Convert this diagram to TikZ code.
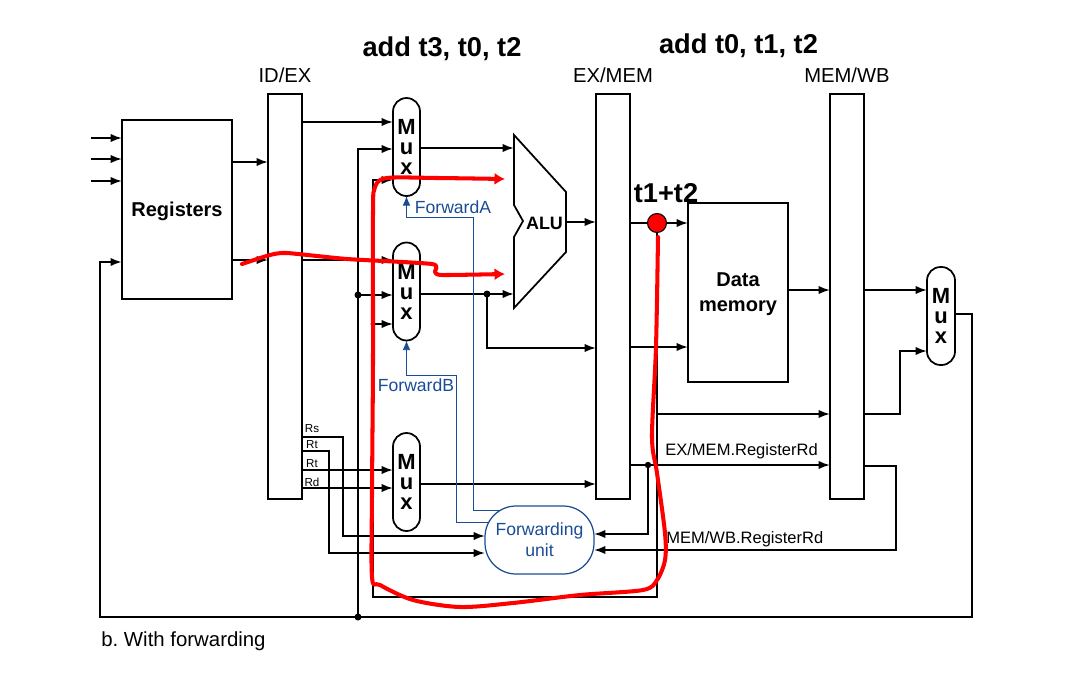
\documentclass[tikz,border=0pt]{standalone}
\usepackage{fontspec}
\setmainfont{Liberation Sans}
\usetikzlibrary{arrows.meta}
\definecolor{fwdblue}{HTML}{1A4C94}
\frenchspacing
\tikzset{
    >={Latex[length=6.5pt,width=4.8pt]},
    wire/.style={line width=1.1pt,black},
    fwdwire/.style={line width=0.5pt,fwdblue},
    hotwire/.style={line width=2.3pt,red,line cap=round,line join=round},
    block/.style={draw,line width=1pt,outer sep=0pt,inner sep=0pt,align=center,text depth=0pt,font=\fontsize{11.4}{14.2}\selectfont\bfseries},
    pipereg/.style={block,minimum width=0.68cm,minimum height=8.1cm},
    muxbox/.style={block,rounded corners=0.27cm,minimum width=0.54cm,minimum height=1.96cm,font=\fontsize{12.5}{11.4}\selectfont\bfseries},
    lbl/.style={inner sep=0pt,font=\fontsize{9.4}{11}\selectfont},
    reglbl/.style={inner sep=0pt,font=\fontsize{11.5}{13}\selectfont},
    tinylbl/.style={inner sep=0pt,font=\fontsize{6.6}{7}\selectfont},
    fwdlbl/.style={inner sep=0pt,text=fwdblue,font=\fontsize{10}{12}\selectfont},
    headlbl/.style={inner sep=0pt,font=\fontsize{15.5}{17}\selectfont\bfseries}
}
\begin{document}
\begin{tikzpicture}[x=0.02cm,y=-0.02cm]
    \useasboundingbox (0,0) rectangle (1086,683);

    % blocks
    \node[block,minimum width=2.2cm,minimum height=3.58cm] (regs) at (177,209.5) {Registers};
    \node[pipereg] (idex) at (285,296.5) {};
    \node[pipereg] (exmem) at (613,296.5) {};
    \node[pipereg] (memwb) at (847,296.5) {};
    \node[block,minimum width=2cm,minimum height=3.58cm] (dmem) at (738,292.5) {Data\\memory};
    \node[muxbox] (muxa) at (406.5,147) {M\\u\\x};
    \node[muxbox] (muxb) at (406.5,291.5) {M\\u\\x};
    \node[muxbox] (muxc) at (406.5,482) {M\\u\\x};
    \node[muxbox,minimum width=0.56cm] (muxd) at (941,316) {M\\u\\x};
    \node[draw=fwdblue,line width=0.7pt,rounded corners=0.62cm,minimum width=2.18cm,minimum height=1.36cm,outer sep=0pt,inner sep=0pt,align=center,text=fwdblue,font=\fontsize{10}{12}\selectfont] (fwd) at (539.5,540) {Forwarding\\unit};

    % ALU
    \coordinate (alutop) at (514,135);
    \coordinate (alubot) at (514,308);
    \draw[line width=1pt,line join=miter] (alutop) -- (566,192) -- (566,252) -- (alubot) -- (514,237) -- (523,221) -- (514,205) -- cycle;
    \node[inner sep=0pt,font=\fontsize{10.2}{12}\selectfont\bfseries] (alu) at (544.5,223) {ALU};

    % labels
    \node[reglbl] (lblidex) at (285,75) {ID/EX};
    \node[reglbl] (lblexmem) at (613,75) {EX/MEM};
    \node[reglbl] (lblmemwb) at (847,75) {MEM/WB};
    \node[headlbl] (lbladda) at (442,48.5) {add t3, t0, t2};
    \node[headlbl] (lbladdb) at (738.5,45.5) {add t0, t1, t2};
    \node[headlbl,font=\fontsize{15.5}{17}\selectfont\bfseries] (lblsum) at (666,193) {t1+t2};
    \node[lbl,anchor=west] (lblexrd) at (665,451.5) {EX/MEM.RegisterRd};
    \node[lbl,anchor=west] (lblwbrd) at (666,539.5) {MEM/WB.RegisterRd};
    \node[inner sep=0pt,anchor=west,font=\fontsize{11.6}{13}\selectfont] (lblcap) at (101,641) {b. With forwarding};
    \node[tinylbl] (lblrs) at (312,429) {Rs};
    \node[tinylbl] (lblrta) at (312,445) {Rt};
    \node[tinylbl] (lblrtb) at (312,464) {Rt};
    \node[tinylbl] (lblrd) at (312,482) {Rd};
    \node[fwdlbl] (lblfa) at (453,207) {ForwardA};
    \node[fwdlbl] (lblfb) at (416,385) {ForwardB};

    % register file and first pipeline register
    \foreach \yy in {138,159,181} {
        \draw[wire,->] (91,\yy) -- (regs.west |- 91,\yy);
    }
    \draw[wire,->] (regs.east |- 0,162) -- (idex.west |- 0,162);
    \draw[wire,->] (regs.east |- 0,260) -- (idex.west |- 0,260);
    \draw[wire,->] (idex.east |- 0,122) -- (muxa.west |- 0,122);
    \draw[wire,->] (idex.east |- 0,260) -- (muxb.west |- 0,260);
    \draw[wire,->] (idex.east |- 0,470) -- (muxc.west |- 0,470);
    \draw[wire,->] (idex.east |- 0,488) -- (muxc.west |- 0,488);

    % forward from MEM/WB
    \coordinate (wbjoin) at (358,617);
    \coordinate (wbtap) at (358,295);
    \draw[wire,->] (wbjoin) -- (358,149) -- (muxa.west |- 0,149);
    \draw[wire,->] (wbtap) -- (muxb.west |- wbtap);
    \fill (wbtap) circle(3.5);
    \fill (wbjoin) circle(3.5);

    % forward from EX/MEM
    \coordinate (memhit) at (657,223);
    \coordinate (memtap) at (373,324);
    \draw[wire,->] (memhit) -- (657,597) -- (373,597) -- (373,180) -- (muxa.west |- 0,180);
    \draw[wire,->] (memtap) -- (muxb.west |- memtap);
    \fill (memtap) circle(2.5);

    % ALU in and out
    \coordinate (alutap) at (487,294);
    \draw[wire,->] (muxa.east |- 0,148) -- (alutop |- 0,148);
    \draw[wire,->] (muxb.east |- alutap) -- (alutop |- alutap);
    \draw[wire,->] (alutap) -- (487,348) -- (exmem.west |- 0,348);
    \fill (alutap) circle(3.5);
    \draw[wire,->] (566,222) -- (exmem.west |- 0,222);
    \draw[wire,->] (muxc.east |- 0,484) -- (exmem.west |- 0,484);

    % memory stage
    \draw[wire,->] (exmem.east |- 0,223) -- (dmem.west |- 0,223);
    \draw[wire,->] (exmem.east |- 0,347) -- (dmem.west |- 0,347);
    \draw[wire,->] (dmem.east |- 0,290) -- (memwb.west |- 0,290);
    \draw[wire,->] (657,414) -- (memwb.west |- 0,414);
    \coordinate (rdtap) at (648,465);
    \draw[wire,->] (exmem.east |- rdtap) -- (memwb.west |- rdtap);
    \draw[wire,->] (rdtap) -- (648,534) -- (fwd.east |- 0,534);
    \fill (rdtap) circle(3.2);

    % writeback
    \draw[wire,->] (memwb.east |- 0,290) -- (muxd.west |- 0,290);
    \draw[wire,->] (memwb.east |- 0,414) -- (900,414) -- (900,351) -- (muxd.west |- 0,351);
    \draw[wire,->] (memwb.east |- 0,466) -- (896,466) -- (896,550) -- (fwd.east |- 0,550);
    \draw[wire,line width=1.3pt,->] (muxd.east |- 0,314) -- (972,314) -- (972,617) -- (100,617) -- (100,262) -- (regs.west |- 0,262);

    % Rs and Rt to the forwarding unit
    \draw[wire,->] (idex.east |- 0,437) -- (343,437) -- (343,536) -- (fwd.west |- 0,536);
    \draw[wire,->] (idex.east |- 0,451) -- (329,451) -- (329,553) -- (fwd.west |- 0,553);

    % forwarding control
    \draw[fwdwire,-{Latex[length=5.5pt,width=4.4pt]}] (500,510) -- (473,510) -- (473,217) -- (406.5,217) -- (muxa.south);
    \draw[fwdwire,-{Latex[length=5.5pt,width=4.4pt]}] (488,522) -- (456,522) -- (456,375) -- (406.5,375) -- (muxb.south);

    % the hazard
    \draw[hotwire,-{Latex[length=6pt,width=7pt]}] plot [smooth,tension=0.5] coordinates {(658,237) (656,347) (652,437) (657,473) (665,533) (665,560) (657,580) (643,590) (580,595) (513,603) (460,607) (413,600) (380,585) (372,577) (372,493) (373,360) (373,213) (375,187) (387,178) (437,178) (505,179)};
    \draw[hotwire,-{Latex[length=6pt,width=7pt]}] plot [smooth,tension=0.35] coordinates {(242,264) (270,255) (287,253) (347,259) (432,264) (435,272) (442,275) (505,274)};
    \node[circle,draw,fill=red,line width=0.6pt,minimum size=0.38cm,inner sep=0pt,outer sep=0pt] (hit) at (memhit) {};
\end{tikzpicture}
\end{document}
